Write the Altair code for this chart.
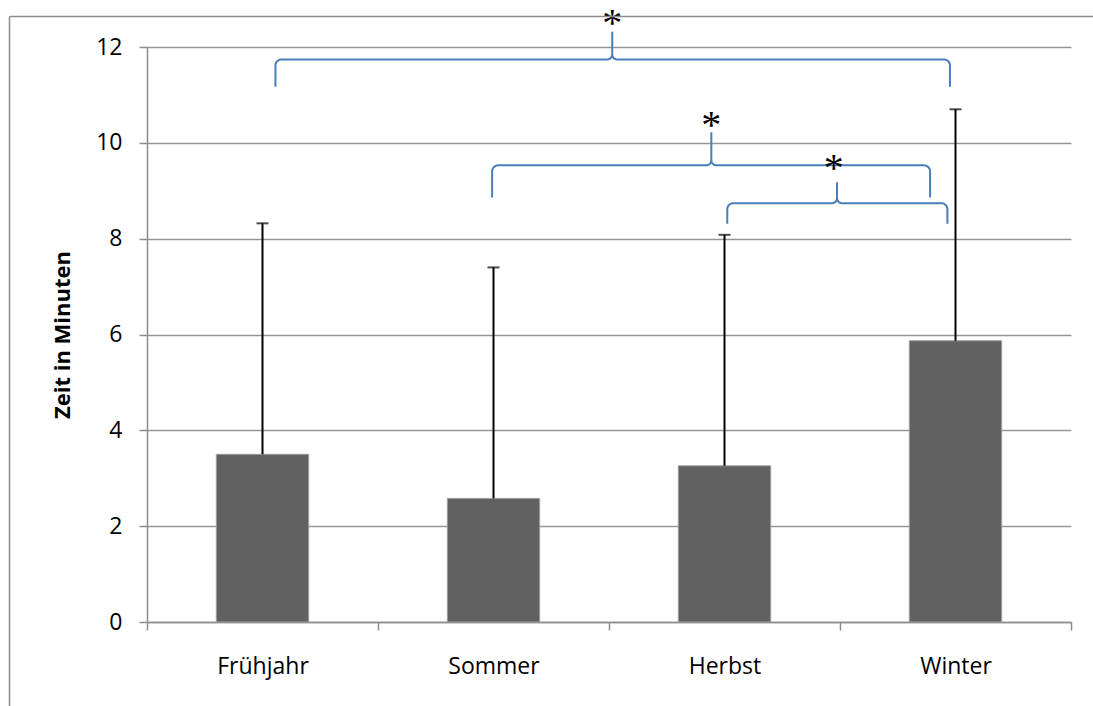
import altair as alt
import numpy as np
import pandas as pd

# Mean time per season with the upper end of the standard deviation
seasons = ["Frühjahr", "Sommer", "Herbst", "Winter"]
means = [3.50, 2.58, 3.26, 5.87]
upper = [8.32, 7.40, 8.08, 10.70]
y_ticks = [0, 2, 4, 6, 8, 10, 12]

# Significance braces, placed on a 0-4 axis spanning the four category bands
brace_left = [0.556, 1.494, 2.512]
brace_right = [3.476, 3.390, 3.465]
brace_peak = [2.014, 2.443, 2.987]
brace_level = [11.74, 9.53, 8.74]
brace_tip = [11.17, 8.86, 8.31]
brace_top = [12.32, 10.22, 9.18]
star_x = [2.014, 2.443, 2.973]
star_y = [12.62, 10.50, 9.60]
star_text = ["*", "*", "*"]

W, H = 924, 575
PX_X = W / 4.0
PX_Y = H / 12.0
R_END = 6.0   # corner radius of the brace ends, px
R_PEAK = 5.0  # radius of the curls at the brace peak, px

FONT = "Open Sans"
GRID = "#969696"
AXIS = "#8c8c8c"
BRACE = "#4a7ebb"


def brace_points(k):
    x0, x1, xm = brace_left[k], brace_right[k], brace_peak[k]
    yh, yt, ytop = brace_level[k], brace_tip[k], brace_top[k]
    rx, ry = R_END / PX_X, R_END / PX_Y
    px, py = R_PEAK / PX_X, R_PEAK / PX_Y
    pts = [(x0, yt)]
    for th in np.linspace(np.pi, np.pi / 2, 9):
        pts.append((x0 + rx + rx * np.cos(th), yh - ry + ry * np.sin(th)))
    for th in np.linspace(-np.pi / 2, 0, 7):
        pts.append((xm - px + px * np.cos(th), yh + py + py * np.sin(th)))
    pts.append((xm, ytop))
    for th in np.linspace(np.pi, 1.5 * np.pi, 7):
        pts.append((xm + px + px * np.cos(th), yh + py + py * np.sin(th)))
    for th in np.linspace(np.pi / 2, 0, 9):
        pts.append((x1 - rx + rx * np.cos(th), yh - ry + ry * np.sin(th)))
    pts.append((x1, yt))
    return pts


bars_df = pd.DataFrame({"season": seasons, "mean": means, "upper": upper})

rows = []
for k in range(len(brace_left)):
    for i, (bx, by) in enumerate(brace_points(k)):
        rows.append({"brace": k, "i": i, "bx": bx, "by": by})
brace_df = pd.DataFrame(rows)
stars_df = pd.DataFrame({"sx": star_x, "sy": star_y, "t": star_text})


def band_scale():
    return alt.Scale(type="band", paddingInner=0, paddingOuter=0)


x_band = alt.X(
    "season:N",
    sort=seasons,
    scale=band_scale(),
    axis=alt.Axis(
        title="",
        labelAngle=0,
        labelFont=FONT,
        labelFontSize=23,
        labelColor="#000000",
        labelPadding=25,
        tickBand="extent",
        tickSize=8,
        tickColor=AXIS,
        tickWidth=1.5,
        domainColor=AXIS,
        domainWidth=1.5,
        grid=False,
    ),
)
x_band_plain = alt.X("season:N", sort=seasons, scale=band_scale(), axis=None)
y_scale = alt.Scale(domain=[0, 12], nice=False, zero=True)

bars = alt.Chart(bars_df).mark_bar(
    color="#616161", stroke="#a0a0a0", strokeWidth=1,
    width=alt.RelativeBandSize(0.4),
).encode(
    x=x_band,
    y=alt.Y(
        "mean:Q",
        scale=y_scale,
        axis=alt.Axis(
            title="Zeit in Minuten",
            titleFont=FONT,
            titleFontSize=22,
            titleFontWeight="bold",
            titleColor="#000000",
            titleAngle=270,
            titleAlign="center",
            titleBaseline="middle",
            titleX=-85,
            titleY=H / 2,
            values=y_ticks,
            labelFont=FONT,
            labelFontSize=23,
            labelColor="#000000",
            labelPadding=17,
            tickSize=8,
            tickColor=AXIS,
            tickWidth=1.5,
            domainColor=AXIS,
            domainWidth=1.5,
            grid=True,
            gridColor=GRID,
            gridWidth=1.5,
        ),
    ),
)

err = alt.Chart(bars_df).mark_rule(color="#000000", strokeWidth=2).encode(
    x=x_band_plain,
    y=alt.Y("mean:Q", scale=y_scale),
    y2="upper:Q",
)
caps = alt.Chart(bars_df).mark_tick(
    color="#000000", thickness=2, size=12
).encode(
    x=x_band_plain,
    y=alt.Y("upper:Q", scale=y_scale),
)

x_num = alt.Scale(domain=[0, 4], nice=False, zero=False)
braces = alt.Chart(brace_df).mark_line(
    color=BRACE, strokeWidth=2, interpolate="linear"
).encode(
    x=alt.X("bx:Q", scale=x_num, axis=None),
    y=alt.Y("by:Q", scale=y_scale),
    detail="brace:N",
    order="i:Q",
)
stars = alt.Chart(stars_df).mark_text(
    font="Liberation Serif", fontSize=40, baseline="alphabetic", dy=19,
    color="#000000",
).encode(
    x=alt.X("sx:Q", scale=x_num, axis=None),
    y=alt.Y("sy:Q", scale=y_scale),
    text="t:N",
)

# Outer chart frame (left and top edges)
one = pd.DataFrame({"k": [0]})
frame_left = alt.Chart(one).mark_rule(color=AXIS, strokeWidth=1.5).encode(
    x=alt.value(-137.5), y=alt.value(-30.5), y2=alt.value(670)
)
frame_top = alt.Chart(one).mark_rule(color=AXIS, strokeWidth=1.5).encode(
    x=alt.value(-137.5), x2=alt.value(960), y=alt.value(-30.5)
)

chart = (
    alt.layer(bars, err, caps, braces, stars, frame_left, frame_top)
    .resolve_scale(x="independent")
    .properties(
        width=W,
        height=H,
        autosize=alt.AutoSizeParams(type="none"),
        padding={"left": 147, "top": 47, "right": 22, "bottom": 84},
        background="#ffffff",
    )
    .configure_view(stroke="transparent")
)

chart.save("out.html", embed_options={"renderer": "svg", "actions": False})
